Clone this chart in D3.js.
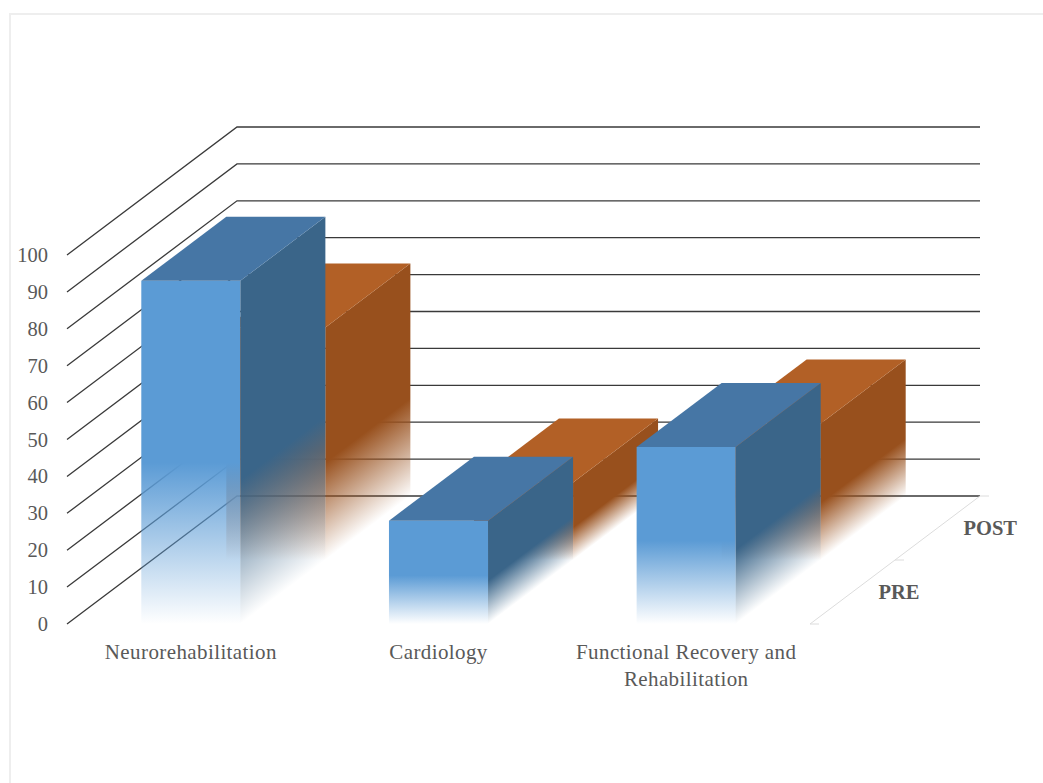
<!DOCTYPE html>
<html>
<head>
<meta charset="utf-8">
<script src="https://cdn.jsdelivr.net/npm/d3@7"></script>
<style>
  html, body { margin: 0; padding: 0; background: #fff; }
  svg { display: block; }
  text { font-family: "Liberation Serif", serif; fill: #595959; }
</style>
</head>
<body>
<div id="chart"></div>
<script>
// Values
const categories = ["Neurorehabilitation", "Cardiology", "Functional Recovery and Rehabilitation"];
const seriesNames = ["PRE", "POST"];
const preValues = [93, 28, 48];
const postValues = [63, 21, 37];
const yTicks = [0, 10, 20, 30, 40, 50, 60, 70, 80, 90, 100];

const width = 1043, height = 783;

const svg = d3.select("#chart").append("svg")
    .attr("width", width)
    .attr("height", height);

// Frame of the picture, only top and left edges are inside the crop
svg.append("path")
    .attr("fill", "none")
    .attr("stroke", "#eeeeee")
    .attr("stroke-width", 2)
    .attr("d", d3.line()([[10, height], [10, 14], [width, 14]]));

// Scales
const x = d3.scaleBand().domain(categories).range([67, 810]).paddingInner(0.6).paddingOuter(0.3);
const y = d3.scaleLinear().domain([0, 100]).range([624, 255]);
const z = d3.scaleBand().domain(seriesNames).range([0, 1]);

// Oblique projection, depth 0 = front plane, depth 1 = back wall
const depthX = 170, depthY = -128;
const px = (xv, d) => xv + depthX * d;
const py = (v, d) => y(v) + depthY * d;

const defs = svg.append("defs");

// Side wall and back wall lines
const grid = svg.append("g").attr("fill", "none").attr("stroke", "#3a3a3a").attr("stroke-width", 1.3);
yTicks.forEach(t => {
    grid.append("path").attr("d", d3.line()([
        [px(67, 0), py(t, 0)],
        [px(67, 1), py(t, 1)],
        [px(810, 1), py(t, 1)]
    ]));
});

// Depth axis on the floor, with its small ticks
const depthAxis = svg.append("g").attr("fill", "none").attr("stroke", "#dcdcdc");
depthAxis.append("path")
    .attr("d", d3.line()([[px(810, 0), py(0, 0)], [px(810, 1), py(0, 1)]]));
[0, z("POST"), 1].forEach(d => {
    depthAxis.append("path")
        .attr("d", d3.line()([[px(810, d), py(0, d)], [px(810, d) + 9, py(0, d)]]));
});

// Value axis, labels only
svg.append("g")
    .attr("transform", "translate(48,0)")
    .call(d3.axisLeft(y).tickValues(yTicks).tickSize(0).tickPadding(0))
    .call(g => g.select(".domain").remove())
    .selectAll("text")
    .style("font-family", '"Liberation Serif", serif')
    .style("font-size", "20.5px")
    .attr("fill", "#595959");

// Fade to transparent over the lower part of a face
function frontGradient(id, color) {
    const g = defs.append("linearGradient").attr("id", id)
        .attr("x1", 0).attr("y1", 0).attr("x2", 0).attr("y2", 1);
    g.append("stop").attr("offset", 0.53).attr("stop-color", color).attr("stop-opacity", 1);
    g.append("stop").attr("offset", 1).attr("stop-color", color).attr("stop-opacity", 0);
}

function sideGradient(id, color, x0, top, d0) {
    // isolines run parallel to the bottom edge of the side face
    const h = y(0) - y(top);
    const len = Math.hypot(depthX, depthY);
    const nx = -depthY / len, ny = depthX / len;
    const ax = px(x0, d0), ay = py(top, d0) + h * 0.58;
    const t = h * 0.42 * ny;
    const g = defs.append("linearGradient").attr("id", id)
        .attr("gradientUnits", "userSpaceOnUse")
        .attr("x1", ax).attr("y1", ay)
        .attr("x2", ax + nx * t).attr("y2", ay + ny * t);
    g.append("stop").attr("offset", 0).attr("stop-color", color).attr("stop-opacity", 1);
    g.append("stop").attr("offset", 1).attr("stop-color", color).attr("stop-opacity", 0);
}

function drawBar(layer, cat, value, name, colors, i) {
    const x0 = x(cat), x1 = x0 + x.bandwidth();
    const d0 = z(name), d1 = d0 + z.bandwidth();
    const line = d3.line();

    frontGradient(`front-${name}-${i}`, colors.front);
    sideGradient(`side-${name}-${i}`, colors.side, x1, value, d0);

    layer.append("path").attr("fill", `url(#front-${name}-${i})`).attr("d", line([
        [px(x0, d0), py(value, d0)], [px(x1, d0), py(value, d0)],
        [px(x1, d0), py(0, d0)], [px(x0, d0), py(0, d0)]
    ]) + "Z");
    layer.append("path").attr("fill", `url(#side-${name}-${i})`).attr("d", line([
        [px(x1, d0), py(value, d0)], [px(x1, d1), py(value, d1)],
        [px(x1, d1), py(0, d1)], [px(x1, d0), py(0, d0)]
    ]) + "Z");
    layer.append("path").attr("fill", colors.top).attr("d", line([
        [px(x0, d0), py(value, d0)], [px(x1, d0), py(value, d0)],
        [px(x1, d1), py(value, d1)], [px(x0, d1), py(value, d1)]
    ]) + "Z");
}

// Back row first, then the front row on top of it
const blue = { front: "#5b9bd5", side: "#3a6589", top: "#4676a5" };
const orange = { front: "#c96a27", side: "#98501d", top: "#b26026" };
const postLayer = svg.append("g"), preLayer = svg.append("g");
categories.forEach((c, i) => drawBar(postLayer, c, postValues[i], "POST", orange, i));
categories.forEach((c, i) => drawBar(preLayer, c, preValues[i], "PRE", blue, i));

// Category labels
svg.append("g").selectAll("text")
    .data(categories)
    .join("text")
    .attr("text-anchor", "middle")
    .attr("font-size", 21)
    .attr("letter-spacing", 0.4)
    .each(function (d) {
        const cx = x(d) + x.bandwidth() / 2;
        const words = d === categories[2] ? ["Functional Recovery and", "Rehabilitation"] : [d];
        d3.select(this).selectAll("tspan").data(words).join("tspan")
            .attr("x", cx)
            .attr("y", (w, k) => 659 + k * 27)
            .text(w => w);
    });

// Series labels on the depth axis
svg.append("g").selectAll("text")
    .data(seriesNames)
    .join("text")
    .attr("font-weight", "bold")
    .attr("font-size", 20.5)
    .attr("x", d => px(810, z(d) + z.bandwidth() / 2) + 26)
    .attr("y", d => py(0, z(d) + z.bandwidth() / 2) + 7)
    .text(d => d);
</script>
</body>
</html>
